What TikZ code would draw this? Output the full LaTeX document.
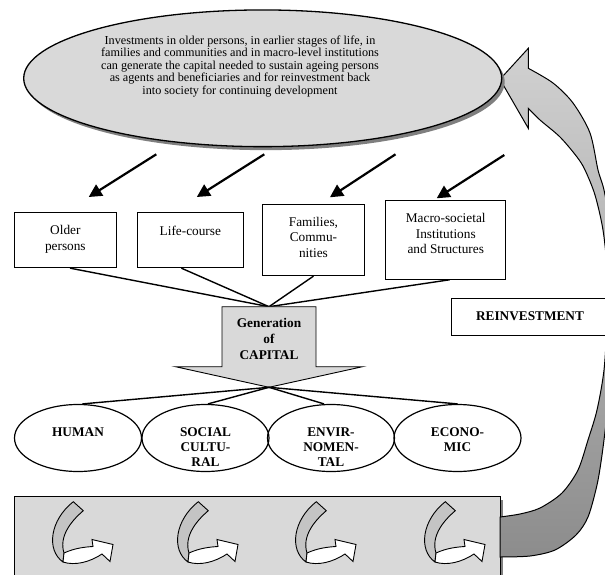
\documentclass[tikz,border=0pt]{standalone}
\usepackage{fontspec}
\setmainfont{Liberation Serif}
\usetikzlibrary{shapes.geometric,arrows.meta,shadows,positioning}

\definecolor{panelgray}{HTML}{D9D9D9}
\definecolor{shadowgray}{HTML}{7F7F7F}
\definecolor{ribbongray}{HTML}{C4C4C4}

\begin{document}
\begin{tikzpicture}[x=1pt,y=-1pt,
	box/.style={draw,line width=0.9pt,inner sep=0pt,fill=white},
	boxtext/.style={font=\fontsize{13.3}{15.4}\selectfont,align=center,inner sep=0pt,anchor=north},
	captext/.style={font=\bfseries\fontsize{13.3}{15.4}\selectfont,align=center,inner sep=0pt,anchor=north},
	kind/.style={ellipse,draw,line width=1.2pt,minimum width=127pt,minimum height=67pt,inner sep=0pt},
	feed/.style={line width=2.2pt,-{Triangle[length=13pt,width=13pt]}},
	link/.style={line width=1.4pt}]

	\useasboundingbox (0,0) rectangle (605,575);
	\clip (0,0) rectangle (605,575);

	% bottom panel
	\fill[shadowgray] (17.3,499.5) rectangle (503,590);
	\draw[fill=panelgray,line width=0.8pt] (14.3,496.5) rectangle (500,590);

	% reinvestment arrow
	\draw[line width=1pt,top color=black!18,bottom color=black!45]
		(500,557) -- plot[smooth] coordinates {(500,557) (530,556) (555,550) (576,535) (588,517) (597,485) (602,455) (607,415) (612,370) (615,320) (614,270) (610,225) (604,190) (598,170) (590,133) (573,103) (553,83) (528.3,68.3)}
		-- (528.3,48.3) -- (500,79.3) -- (528.3,128.3) -- (528.3,108.3)
		-- plot[smooth] coordinates {(528.3,108.3) (540,120) (560,137) (577,157) (585,170) (595,195) (603,230) (607,270) (607,320) (604,370) (597,410) (588,440) (578,470) (562,493) (540,508) (520,514) (500,517)}
		-- cycle;

	% investments
	\node[ellipse,draw,line width=1.3pt,fill=panelgray,minimum width=478pt,minimum height=136.7pt,
		drop shadow={shadow xshift=3pt,shadow yshift=-3.5pt,fill=shadowgray,opacity=1}] (invest) at (262.7,78.3) {};
	\node[anchor=north,inner sep=0pt,align=center,font=\fontsize{12.2}{12.5}\selectfont] (investtext) at (240,35.4)
		{Investments in older persons, in earlier stages of life, in\\
		families and communities and in macro-level institutions\\
		can generate the capital needed to sustain ageing persons\\
		as agents and beneficiaries and for reinvestment back\\
		into society for continuing development};

	% targets of investment
	\node[box,minimum width=102.4pt,minimum height=55pt] (older) at (65.35,240.2) {};
	\node[box,minimum width=105.3pt,minimum height=55pt] (course) at (190.35,240.2) {};
	\node[box,minimum width=102.3pt,minimum height=71.4pt] (families) at (313.45,240) {};
	\node[box,minimum width=119.9pt,minimum height=78.6pt] (macro) at (445.75,240) {};
	\node[boxtext] (oldertext) at ([yshift=-13.3pt]older.north) {Older\\persons};
	\node[boxtext] (coursetext) at ([yshift=-13.3pt]course.north) {Life-course};
	\node[boxtext] (familiestext) at ([yshift=-13.3pt]families.north) {Families,\\Commu-\\nities};
	\node[boxtext] (macrotext) at ([yshift=-13.3pt]macro.north) {Macro-societal\\Institutions\\and Structures};

	\node[box,font=\bfseries\fontsize{13.3}{15.4}\selectfont,minimum width=156.6pt,minimum height=36.7pt] (reinvest) at (530,316.65) {REINVESTMENT};

	% feeding arrows
	\coordinate (f1) at (156.3,154.3);
	\coordinate (f2) at (264.3,154.3);
	\coordinate (f3) at (395.5,154.3);
	\coordinate (f4) at (504.3,155);
	\coordinate (t1) at (88.7,197);
	\coordinate (t2) at (196.8,197);
	\coordinate (t3) at (329.9,197.3);
	\coordinate (t4) at (436.7,198.3);
	\foreach \i in {1,...,4}
		\draw[feed] (f\i) -- (t\i);

	% generation of capital
	\coordinate (gtop) at (269,306.7);
	\coordinate (gtip) at (269,387.3);
	\draw[link] ([xshift=4.7pt]older.south) -- (gtop);
	\draw[link] ([xshift=-9pt]course.south) -- (gtop);
	\draw[link] (families.south) -- (gtop);
	\draw[link] ([xshift=4pt]macro.south) -- (gtop);
	\draw[fill=panelgray,line width=0.9pt] (222,306.7) -- (316,306.7) -- (316,366.7) -- (362.5,366.7)
		-- (gtip) -- (175.5,366.7) -- (222,366.7) -- cycle;
	\node[captext,font=\bfseries\fontsize{13.3}{16}\selectfont] (gen) at ([yshift=-11.6pt]gtop) {Generation\\of\\CAPITAL};

	% kinds of capital
	\node[kind] (human) at (78,438) {};
	\node[kind] (social) at (205.5,438) {};
	\node[kind] (envir) at (331,438) {};
	\node[kind] (econ) at (457.5,438) {};
	\node[captext] (humantext) at ([yshift=-23.2pt]human.north) {HUMAN};
	\node[captext] (socialtext) at ([yshift=-23.2pt]social.north) {SOCIAL\\CULTU-\\RAL};
	\node[captext] (envirtext) at ([yshift=-23.2pt]envir.north) {ENVIR-\\NOMEN-\\TAL};
	\node[captext] (econtext) at ([yshift=-23.2pt]econ.north) {ECONO-\\MIC};
	\draw[link] (gtip) -- ([xshift=4.5pt]human.north);
	\draw[link] (gtip) -- ([xshift=2.5pt]social.north);
	\draw[link] (gtip) -- ([xshift=-7pt]envir.north);
	\draw[link] (gtip) -- (econ.north);

	% turning arrows in the panel
	\foreach \dx in {0,125,243,372} {
		\begin{scope}[shift={(30+\dx,490)}]
			\draw[line width=0.9pt,fill=ribbongray] (43.3,11.7) -- (53.3,20.7)
				.. controls (40,32) and (29,47) .. (34,63) -- (33,72)
				.. controls (16,60) and (20,30) .. (43.3,11.7) -- cycle;
			\draw[line width=0.9pt,fill=white] (34,63) .. controls (45,58) and (55,57) .. (63,56.5)
				-- (62,49.5) -- (83,54.5) -- (80,71.5) -- (72,64)
				.. controls (60,72) and (45,76) .. (33,72) -- cycle;
		\end{scope}
	}
\end{tikzpicture}
\end{document}
